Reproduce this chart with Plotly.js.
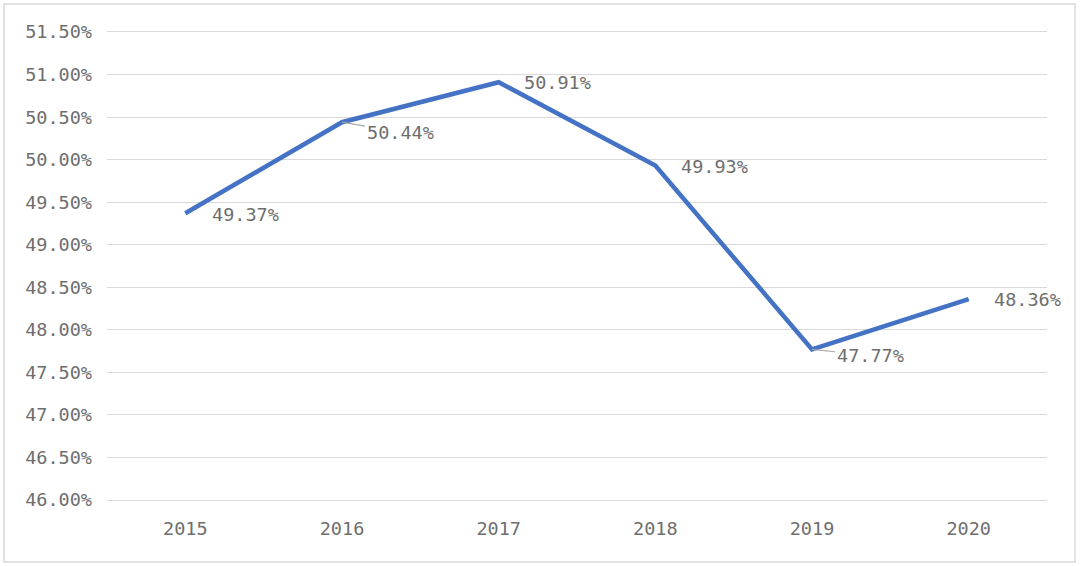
<!DOCTYPE html>
<html><head><meta charset="utf-8">
<script src="https://cdn.plot.ly/plotly-3.0.1.min.js"></script>
<style>html,body{margin:0;padding:0;background:#fff;}#c{width:1080px;height:566px;}</style>
</head><body><div id="c"></div>
<script>
const years = ['2015','2016','2017','2018','2019','2020'];
const values = [49.37, 50.44, 50.91, 49.93, 47.77, 48.36];
const labels = ['49.37%','50.44%','50.91%','49.93%','47.77%','48.36%'];
const leader = [false, true, false, false, true, false];
const offX = [60, 58, 59, 59, 58, 59];
const offY = [1, 10, 0, 1, 6, 0];

const font = {family: '"DejaVu Sans Mono", monospace', size: 18.5, color: '#6e6e6e'};

const annotations = years.map((y, i) => leader[i] ? ({
  x: i, y: values[i], xref: 'x', yref: 'y', text: labels[i],
  showarrow: true, arrowhead: 0, arrowwidth: 1.2, arrowcolor: '#a6a6a6',
  ax: offX[i], ay: offY[i], font: font, standoff: 0, startstandoff: 0
}) : ({
  x: i, y: values[i], xref: 'x', yref: 'y', text: labels[i],
  showarrow: false, xshift: offX[i], yshift: -offY[i], font: font
}));

const L = 107, R = 33, T = 32, B = 66, W = 1080, H = 566;
const pw = W - L - R, ph = H - T - B;
const px = v => (v - L) / pw, py = v => (H - B - v) / ph;

Plotly.newPlot('c', [{
  x: years, y: values, type: 'scatter', mode: 'lines',
  line: {color: '#4472C4', width: 4.5}, hoverinfo: 'skip'
}], {
  width: W, height: H,
  margin: {l: L, r: R, t: T, b: B},
  paper_bgcolor: '#fff', plot_bgcolor: '#fff',
  showlegend: false,
  xaxis: {type: 'category', range: [-0.5, 5.5], showgrid: false, zeroline: false,
    showline: true, mirror: true, linecolor: '#d9d9d9', linewidth: 1,
    ticks: '', tickfont: font, ticklabelstandoff: 12},
  yaxis: {range: [46, 51.5], dtick: 0.5, tick0: 46, tickformat: '.2f', ticksuffix: '%',
    showgrid: true, gridcolor: '#d9d9d9', gridwidth: 1, zeroline: false, showline: false,
    ticks: '', tickfont: font, ticklabelstandoff: 14},
  annotations: annotations,
  shapes: [{type: 'rect', xref: 'paper', yref: 'paper',
    x0: px(4), x1: px(1075), y0: py(562), y1: py(4),
    line: {color: '#d9d9d9', width: 1.5}, fillcolor: 'rgba(0,0,0,0)', layer: 'below'}]
}, {displayModeBar: false, staticPlot: true});
</script></body></html>
